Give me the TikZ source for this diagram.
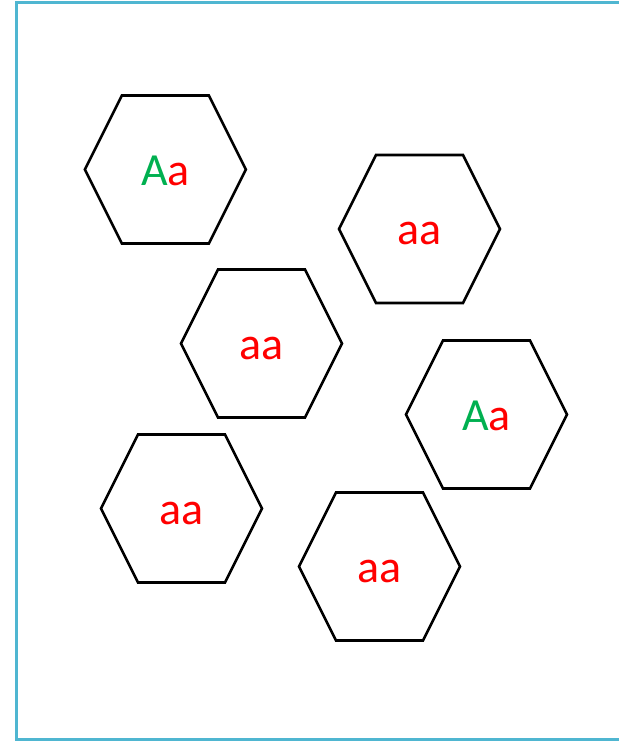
\documentclass[tikz,border=0pt]{standalone}
\usepackage{fontspec}
\setmainfont{Carlito}
\definecolor{framec}{RGB}{79,182,209}
\definecolor{geng}{RGB}{0,176,80}
\definecolor{rred}{RGB}{255,0,0}
\tikzset{
  hex/.style={draw=black,line width=2.6pt,line join=miter},
  lbl/.style={font=\fontsize{46}{46}\selectfont, anchor=base, inner sep=0pt},
  frameline/.style={draw=framec,line width=3pt}
}
\newcommand\hexcell[4]{%
  \draw[hex] (#2-80.5,#3) -- (#2-43.5,#3-74) -- (#2+43.5,#3-74) -- (#2+80.5,#3) -- (#2+43.5,#3+74) -- (#2-43.5,#3+74) -- cycle;
  \node[lbl] (#1) at (#2,#3+15.5) {#4};
}
\begin{document}
\begin{tikzpicture}[x=1pt,y=-1pt]
\useasboundingbox (0,0) rectangle (618,741);
\coordinate (tr) at (620,3);
\coordinate (tl) at (16,3);
\coordinate (bl) at (16,739.5);
\coordinate (br) at (620,739.5);
\draw[frameline] (tr) -- (tl) -- (bl) -- (br);
\hexcell{h1}{165.4}{169.5}{\textcolor{geng}{A}\textcolor{rred}{a}}
\hexcell{h2}{419.5}{229}{\textcolor{rred}{aa}}
\hexcell{h3}{261.5}{343.5}{\textcolor{rred}{aa}}
\hexcell{h4}{486.5}{414.5}{\textcolor{geng}{A}\textcolor{rred}{a}}
\hexcell{h5}{181.5}{508.5}{\textcolor{rred}{aa}}
\hexcell{h6}{379.5}{566.5}{\textcolor{rred}{aa}}
\end{tikzpicture}
\end{document}
